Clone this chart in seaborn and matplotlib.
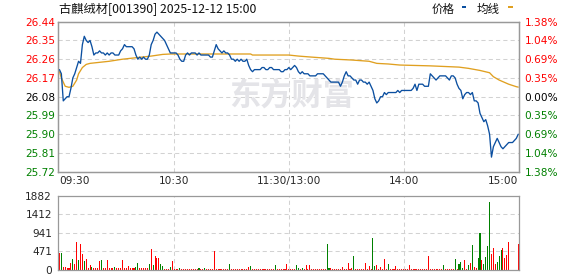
import numpy as np
import pandas as pd
import matplotlib
matplotlib.use("Agg")
import matplotlib.pyplot as plt
from matplotlib.patches import Rectangle
import seaborn as sns

# ---------------- data ----------------
title = "古麒绒材[001390] 2025-12-12 15:00"
prev_close = 26.08
price_ticks = [25.72, 25.81, 25.90, 25.99, 26.08, 26.17, 26.26, 26.35, 26.44]
price_tick_labels = ["25.72", "25.81", "25.90", "25.99", "26.08", "26.17", "26.26", "26.35", "26.44"]
pct_tick_labels = ["1.38%", "1.04%", "0.69%", "0.35%", "0.00%", "0.35%", "0.69%", "1.04%", "1.38%"]
vol_ticks = [0, 471, 941, 1412, 1882]
vol_tick_labels = ["0", "471", "941", "1412", "1882"]
time_ticks = [0, 60, 120, 180, 240]
time_labels = ["09:30", "10:30", "11:30/13:00", "14:00", "15:00"]

# per-minute price (09:30 .. 15:00, 241 minutes)
price = [
    26.21, 26.19, 26.06, 26.07, 26.08, 26.08, 26.12, 26.17, 26.19, 26.22, 26.25, 26.24, 26.33, 26.37, 26.35, 26.34, 26.35, 26.32, 26.28, 26.29,
    26.29, 26.30, 26.29, 26.29, 26.28, 26.29, 26.28, 26.29, 26.29, 26.28, 26.28, 26.28, 26.30, 26.31, 26.33, 26.32, 26.32, 26.32, 26.32, 26.31,
    26.28, 26.26, 26.27, 26.26, 26.27, 26.26, 26.26, 26.28, 26.33, 26.35, 26.38, 26.39, 26.38, 26.37, 26.36, 26.35, 26.33, 26.31, 26.29, 26.29,
    26.29, 26.29, 26.28, 26.26, 26.25, 26.25, 26.28, 26.29, 26.28, 26.29, 26.29, 26.29, 26.28, 26.29, 26.28, 26.28, 26.28, 26.28, 26.28, 26.27,
    26.27, 26.30, 26.33, 26.31, 26.30, 26.29, 26.30, 26.29, 26.29, 26.28, 26.26, 26.26, 26.25, 26.26, 26.25, 26.26, 26.25, 26.25, 26.26, 26.23,
    26.21, 26.20, 26.21, 26.21, 26.21, 26.21, 26.22, 26.22, 26.21, 26.21, 26.22, 26.22, 26.21, 26.21, 26.21, 26.21, 26.20, 26.20, 26.21, 26.21,
    26.22, 26.21, 26.22, 26.23, 26.22, 26.20, 26.19, 26.20, 26.19, 26.19, 26.19, 26.18, 26.18, 26.18, 26.18, 26.19, 26.19, 26.19, 26.19, 26.18,
    26.17, 26.16, 26.15, 26.15, 26.15, 26.15, 26.15, 26.13, 26.15, 26.18, 26.20, 26.18, 26.18, 26.17, 26.16, 26.16, 26.14, 26.16, 26.16, 26.15,
    26.15, 26.14, 26.15, 26.13, 26.11, 26.07, 26.05, 26.06, 26.08, 26.08, 26.10, 26.09, 26.10, 26.10, 26.10, 26.10, 26.10, 26.11, 26.10, 26.11,
    26.11, 26.11, 26.11, 26.11, 26.11, 26.12, 26.14, 26.11, 26.14, 26.14, 26.14, 26.13, 26.13, 26.13, 26.19, 26.18, 26.17, 26.16, 26.17, 26.18,
    26.18, 26.18, 26.18, 26.17, 26.16, 26.18, 26.18, 26.17, 26.14, 26.12, 26.11, 26.07, 26.09, 26.10, 26.10, 26.09, 26.10, 26.06, 26.06, 26.05,
    26.00, 25.98, 25.96, 25.97, 25.94, 25.90, 25.79, 25.84, 25.86, 25.88, 25.86, 25.84, 25.83, 25.84, 25.85, 25.86, 25.86, 25.86, 25.87, 25.88,
    25.90,
]

# average price line, read at key minutes
avg_minutes = [0, 1, 3, 5, 7, 9, 10, 12, 14, 16, 21, 26, 33, 38, 43, 48, 54, 58, 100, 101, 120, 125, 132,
               141, 144, 153, 162, 166, 172, 178, 194, 209, 214, 220, 225, 227, 230, 235, 239, 240]
avg_price = [26.20, 26.17, 26.13, 26.125, 26.13, 26.16, 26.19, 26.22, 26.235, 26.24, 26.245, 26.25, 26.26,
             26.265, 26.27, 26.275, 26.283, 26.285, 26.285, 26.28, 26.28, 26.275, 26.27, 26.264, 26.26,
             26.256, 26.25, 26.24, 26.237, 26.232, 26.228, 26.222, 26.216, 26.206, 26.195, 26.176, 26.16,
             26.14, 26.128, 26.126]

# per-minute volume (lots) and direction (r = up, g = down)
volume = [
    424, 424, 84, 84, 50, 50, 170, 280, 150, 720, 254, 661, 407, 229, 280, 50, 127, 84, 60, 60,
    40, 229, 254, 40, 40, 254, 40, 40, 60, 84, 40, 60, 40, 254, 60, 40, 110, 60, 40, 40,
    84, 170, 40, 40, 40, 40, 40, 150, 534, 127, 356, 314, 297, 150, 110, 30, 30, 30, 84, 229,
    30, 30, 30, 60, 30, 30, 30, 30, 30, 30, 30, 30, 30, 60, 30, 30, 50, 30, 30, 30,
    30, 483, 30, 30, 30, 30, 30, 30, 30, 152, 30, 30, 30, 30, 30, 30, 30, 30, 30, 84,
    110, 30, 30, 30, 30, 30, 30, 30, 30, 30, 30, 30, 30, 127, 30, 30, 30, 30, 30, 145,
    30, 30, 30, 30, 127, 60, 30, 60, 30, 127, 30, 127, 30, 30, 30, 30, 30, 30, 30, 30,
    661, 60, 60, 30, 30, 30, 30, 30, 84, 30, 30, 170, 30, 60, 364, 30, 30, 30, 30, 30,
    170, 30, 100, 30, 822, 110, 127, 30, 84, 30, 280, 30, 152, 30, 30, 30, 110, 30, 30, 30,
    30, 30, 30, 127, 30, 30, 30, 30, 30, 30, 30, 30, 30, 364, 30, 30, 30, 30, 30, 30,
    30, 127, 30, 30, 30, 30, 30, 280, 30, 152, 210, 60, 254, 30, 127, 178, 636, 84, 60, 314,
    949, 254, 152, 339, 610, 1738, 407, 568, 152, 210, 364, 509, 568, 314, 381, 720, 0, 0, 0, 0,
    661,
]
direction = list(
    "rgrrrrrgrrgrrgrrrgrr"
    "rrgrrrrrrgrrrrrrrrrr"
    "ggrrrrrgrgrrrggrrrgr"
    "rrrgrrrrrrrrrgrrgrrr"
    "rrrrrrrrrgrrrrrrrrrr"
    "grrrrrrrrrrrrgrrrrrr"
    "rrrrggrgrrrrrrrrrrrr"
    "ggrrrrrrrrrrrrgrrrrr"
    "rrrrggrrrrrrgrrrrrrr"
    "rrrrrrrrrrrrrrrrrrrr"
    "rgrrrrrgrgggrrgrgrrg"
    "grggggrrrgggrrrrrrrr"
    "r"
)
minutes = list(range(len(price)))

# ---------------- style ----------------
sns.set_theme(style="white")
plt.rcParams["font.family"] = ["DejaVu Sans", "Noto Sans CJK SC"]
CJK = ["Noto Sans CJK SC", "DejaVu Sans"]
RED, GREEN, BLACK = "#FF0000", "#008000", "#000000"
BLUE, GOLD = "#0B4FA0", "#E0A020"
GRID = "#d2d2d2"
SPINE = "#999999"
TS = 7.6

W, H = 578, 276
fig = plt.figure(figsize=(W / 100, H / 100), dpi=100)
L, R = 58.3, 519.0
ax = fig.add_axes([L / W, (H - 171.7) / H, (R - L) / W, 150 / H])
axv = fig.add_axes([L / W, (H - 270) / H, (R - L) / W, 74 / H])

XL = (-0.6, 240.4)

# ----- price panel -----
for y in price_ticks[1:-1]:
    ax.axhline(y, color=GRID, lw=0.75, ls=(0, (4, 3)), zorder=0)
for x in time_ticks[1:-1]:
    ax.axvline(x, color=GRID, lw=0.75, ls=(0, (4, 3)), zorder=0)

ax.text(0.506, 0.505, "东方财富", transform=ax.transAxes, ha="center", va="center",
        fontsize=22.5, fontweight="bold", color="#e4e4e8", family=CJK, zorder=0.5)

sns.lineplot(x=avg_minutes, y=avg_price, color=GOLD, lw=0.95, ax=ax, zorder=2)
sns.lineplot(x=minutes, y=price, color=BLUE, lw=0.95, ax=ax, zorder=3)

ax.set_xlim(*XL)
ax.set_ylim(price_ticks[0], price_ticks[-1])
ax.set_yticks(price_ticks)
ax.set_yticklabels(price_tick_labels)
ax.set_xticks(time_ticks)
ax.set_xticklabels(time_labels)
ax.tick_params(axis="both", length=0, labelsize=TS)
ax.tick_params(axis="y", pad=2.2)
ax.tick_params(axis="x", pad=3.0)
xl = ax.get_xticklabels()
xl[0].set_ha("left")
xl[-1].set_ha("right")
for lab, v in zip(ax.get_yticklabels(), price_ticks):
    lab.set_color(RED if v > prev_close + 1e-9 else (GREEN if v < prev_close - 1e-9 else BLACK))
ax.set_xlabel("")
ax.set_ylabel("")

axr = ax.twinx()
axr.set_ylim(price_ticks[0], price_ticks[-1])
axr.set_yticks(price_ticks)
axr.set_yticklabels(pct_tick_labels)
axr.tick_params(axis="y", length=0, labelsize=TS, pad=4.0)
for lab, v in zip(axr.get_yticklabels(), price_ticks):
    lab.set_color(RED if v > prev_close + 1e-9 else (GREEN if v < prev_close - 1e-9 else BLACK))

for a in (ax, axr):
    for s in a.spines.values():
        s.set_color(SPINE)
        s.set_linewidth(0.9)

# ----- volume panel -----
for y in vol_ticks[1:-1]:
    axv.axhline(y, color=GRID, lw=0.75, ls=(0, (4, 3)), zorder=0)
for x in time_ticks[1:-1]:
    axv.axvline(x, color=GRID, lw=0.75, ls=(0, (4, 3)), zorder=0)

vol_df = pd.DataFrame({"minute": minutes, "volume": volume, "dir": direction})
sns.barplot(data=vol_df, x="minute", y="volume", hue="dir",
            palette={"r": RED, "g": GREEN}, native_scale=True, width=0.55,
            dodge=False, legend=False, saturation=1, linewidth=0, ax=axv, zorder=2)
axv.set_xlim(*XL)
axv.set_ylim(0, vol_ticks[-1])
axv.set_yticks(vol_ticks)
axv.set_yticklabels(vol_tick_labels)
axv.set_xticks([])
axv.tick_params(axis="both", length=0, labelsize=TS)
axv.tick_params(axis="y", pad=4.5)
axv.set_xlabel("")
axv.set_ylabel("")
for s in axv.spines.values():
    s.set_color(SPINE)
    s.set_linewidth(0.9)

# ----- header -----
fig.text(59 / W, 1 - 9.5 / H, title, ha="left", va="center", fontsize=8.8, family=CJK, color="#111111")
fig.text(431.5 / W, 1 - 9.5 / H, "价格", ha="left", va="center", fontsize=8.3, family=CJK, color="#111111")
fig.text(476.5 / W, 1 - 9.5 / H, "均线", ha="left", va="center", fontsize=8.3, family=CJK, color="#111111")
fig.add_artist(Rectangle((462.3 / W, 1 - 8.2 / H), 3.6 / W, 2.4 / H, transform=fig.transFigure,
                         color=BLUE, lw=0))
fig.add_artist(Rectangle((508.3 / W, 1 - 8.2 / H), 4.4 / W, 2.4 / H, transform=fig.transFigure,
                         color=GOLD, lw=0))

fig.savefig("out.png", dpi=100)
